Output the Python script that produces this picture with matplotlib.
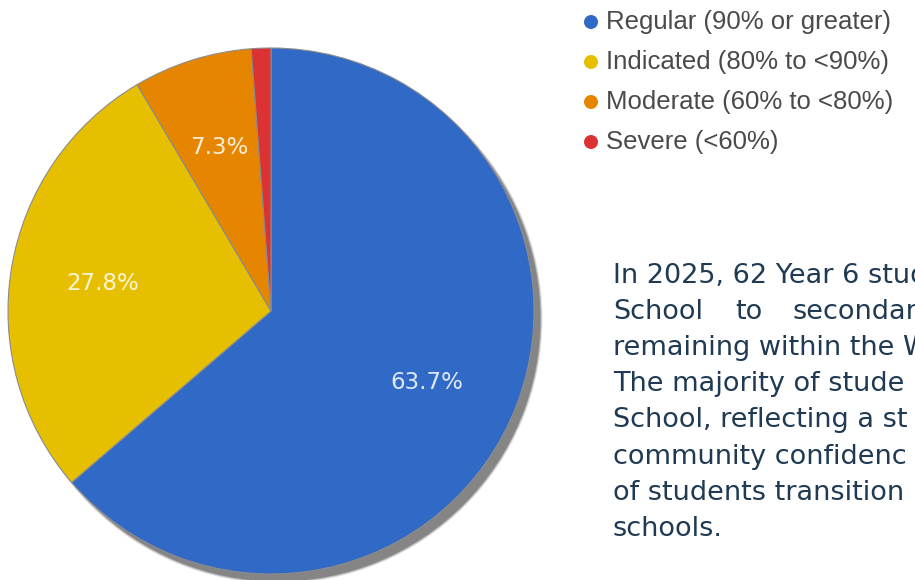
import matplotlib
matplotlib.use("Agg")
import matplotlib.pyplot as plt
from matplotlib.patches import Circle

# Attendance bands for the cohort
categories = ["Regular (90% or greater)", "Indicated (80% to <90%)",
              "Moderate (60% to <80%)", "Severe (<60%)"]
shares = [63.7, 27.8, 7.3, 1.2]
colors = ["#3169c6", "#e6bf00", "#e68600", "#dc3233"]

# Commentary beside the chart (runs past the right edge)
body_lines = [
    "In 2025, 62 Year 6 stud",
    None,  # justified line, placed word by word
    "remaining within the W",
    "The majority of stude",
    "School, reflecting a st",
    "community confidenc",
    "of students transition",
    "schools.",
]
justified_words = [("School", 613), ("to", 735), ("secondar", 793)]

W, H = 915, 580
fig = plt.figure(figsize=(W / 100, H / 100), dpi=100)
ax = fig.add_axes([0, 0, 1, 1])


def iy(y):
    return H - y


cx, cy, r = 271, iy(311), 263

# soft drop shadow
for k, a in [(1.5, 0.25), (0.5, 0.45), (-0.5, 1.0)]:
    ax.add_patch(Circle((cx + 7, cy - 8), r + k, facecolor="#858585",
                        edgecolor="none", alpha=a, zorder=1))

def fmt(p):
    return f"{p:.1f}%" if p >= 5 else ""

wedges, texts, autotexts = ax.pie(
    shares, colors=colors, startangle=90, counterclock=False,
    center=(cx, cy), radius=r, autopct=fmt, pctdistance=0.65,
    wedgeprops=dict(edgecolor="#8c8c8c", linewidth=0.8),
    textprops=dict(color="white", fontsize=16.5, family="DejaVu Sans", alpha=0.85),
)
for w in wedges:
    w.set_zorder(2)
for t in autotexts:
    t.set_zorder(3)

ax.set_xlim(0, W)
ax.set_ylim(0, H)
ax.set_aspect("equal")
ax.axis("off")

# legend
for i, (lab, col) in enumerate(zip(categories, colors)):
    y = iy(22 + 40 * i)
    ax.add_patch(Circle((591, y), 7, facecolor=col, edgecolor="none", zorder=3))
    ax.text(606, y, lab, fontsize=18.5, family="Liberation Sans", color="#4a4a4a",
            va="center", ha="left")

# commentary text
base0, step = 283, 36.1
txt_kw = dict(fontsize=19.5, family="DejaVu Sans", color="#1f3a52", va="baseline", ha="left")
for i, line in enumerate(body_lines):
    y = iy(base0 + step * i)
    if line is None:
        for word, x in justified_words:
            ax.text(x, y, word, **txt_kw)
    else:
        ax.text(613, y, line, **txt_kw)

fig.savefig("out.png", dpi=100)
